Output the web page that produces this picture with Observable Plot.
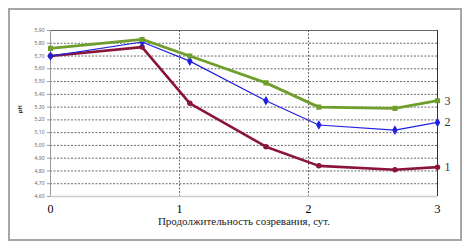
<!DOCTYPE html>
<html><head><meta charset="utf-8">
<script src="https://cdn.jsdelivr.net/npm/d3@7"></script>
<script src="https://cdn.jsdelivr.net/npm/@observablehq/plot@0.6"></script>
<style>
body{margin:0;background:#fff;}
#wrap{position:relative;width:471px;height:251px;}
#frame{position:absolute;left:8px;top:8px;width:450px;height:229px;border:2px solid #a6a6a6;pointer-events:none;}
</style>
</head><body>
<div id="wrap"><div id="frame"></div></div>
<script>
const days = [0, 0.71, 1.08, 1.67, 2.08, 2.67, 3];
const series1 = [5.70, 5.77, 5.33, 4.99, 4.84, 4.81, 4.83];
const series2 = [5.70, 5.81, 5.66, 5.35, 5.16, 5.12, 5.18];
const series3 = [5.76, 5.83, 5.70, 5.49, 5.30, 5.29, 5.35];
const seriesNames = ["1", "2", "3"];
const yTicks = [4.6,4.7,4.8,4.9,5.0,5.1,5.2,5.3,5.4,5.5,5.6,5.7,5.8,5.9];
const xTicks = [0, 1, 2, 3];
const colors = {"1": "#8a1538", "2": "#2020e0", "3": "#6f9e2c"};
const widths = {"1": 2.6, "2": 1.2, "3": 2.8};
const symbols = {"1": "circle", "2": "diamond", "3": "square"};

const allSeries = [series1, series2, series3];
const data = [];
allSeries.forEach((s, i) => s.forEach((v, j) => data.push({s: seriesNames[i], x: days[j], y: v})));
const last = seriesNames.map((n, i) => ({s: n, x: days[days.length-1], y: allSeries[i][days.length-1]}));

const fmt = v => v.toFixed(2).replace(".", ",");
const SERIF = "Liberation Serif";

const plot = Plot.plot({
  width: 471, height: 251,
  marginLeft: 50, marginRight: 34, marginTop: 30, marginBottom: 55,
  x: {domain: [0, 3]},
  y: {domain: [4.6, 5.9]},
  style: {background: "transparent"},
  marks: [
    Plot.ruleY(yTicks.filter(v => v > 4.61 && v < 5.89), {stroke: "#444", strokeDasharray: "2,1.5", strokeWidth: 0.8}),
    Plot.ruleX([1, 2], {stroke: "#444", strokeDasharray: "2,1.5", strokeWidth: 0.8}),
    Plot.ruleY([5.9], {stroke: "#666", strokeWidth: 1}),
    Plot.ruleX([3], {stroke: "#333", strokeWidth: 1}),
    Plot.ruleX([0], {stroke: "#999", strokeWidth: 1}),
    Plot.ruleY([4.6], {stroke: "#ccc", strokeWidth: 1.5}),
    Plot.axisY({ticks: yTicks, tickFormat: fmt, tickSize: 3, tickPadding: 3, fontSize: 5, fill: "#666", stroke: "#999", label: null}),
    Plot.axisX({ticks: xTicks, tickFormat: d => String(d), tickSize: 0, tickPadding: 8, fontSize: 12, fontFamily: SERIF, label: null}),
    Plot.text(["Продолжительность созревания, сут."], {frameAnchor: "bottom", dy: 28, fontSize: 11, fontFamily: SERIF, fill: "#222"}),
    Plot.text(["рН"], {frameAnchor: "left", dx: -30, rotate: -90, fontSize: 6, fontWeight: "bold", fill: "#333"}),
    ...seriesNames.map(n => Plot.line(data.filter(d => d.s === n), {x: "x", y: "y", stroke: colors[n], strokeWidth: widths[n]})),
    ...seriesNames.map(n => Plot.dot(data.filter(d => d.s === n), {x: "x", y: "y", fill: colors[n], stroke: colors[n], symbol: symbols[n], r: 2})),
    Plot.text(last, {x: "x", y: "y", text: "s", dx: 7, textAnchor: "start", fontSize: 12, fontFamily: SERIF, fill: "#333"})
  ]
});
document.getElementById("wrap").prepend(plot);
</script>
</body></html>
